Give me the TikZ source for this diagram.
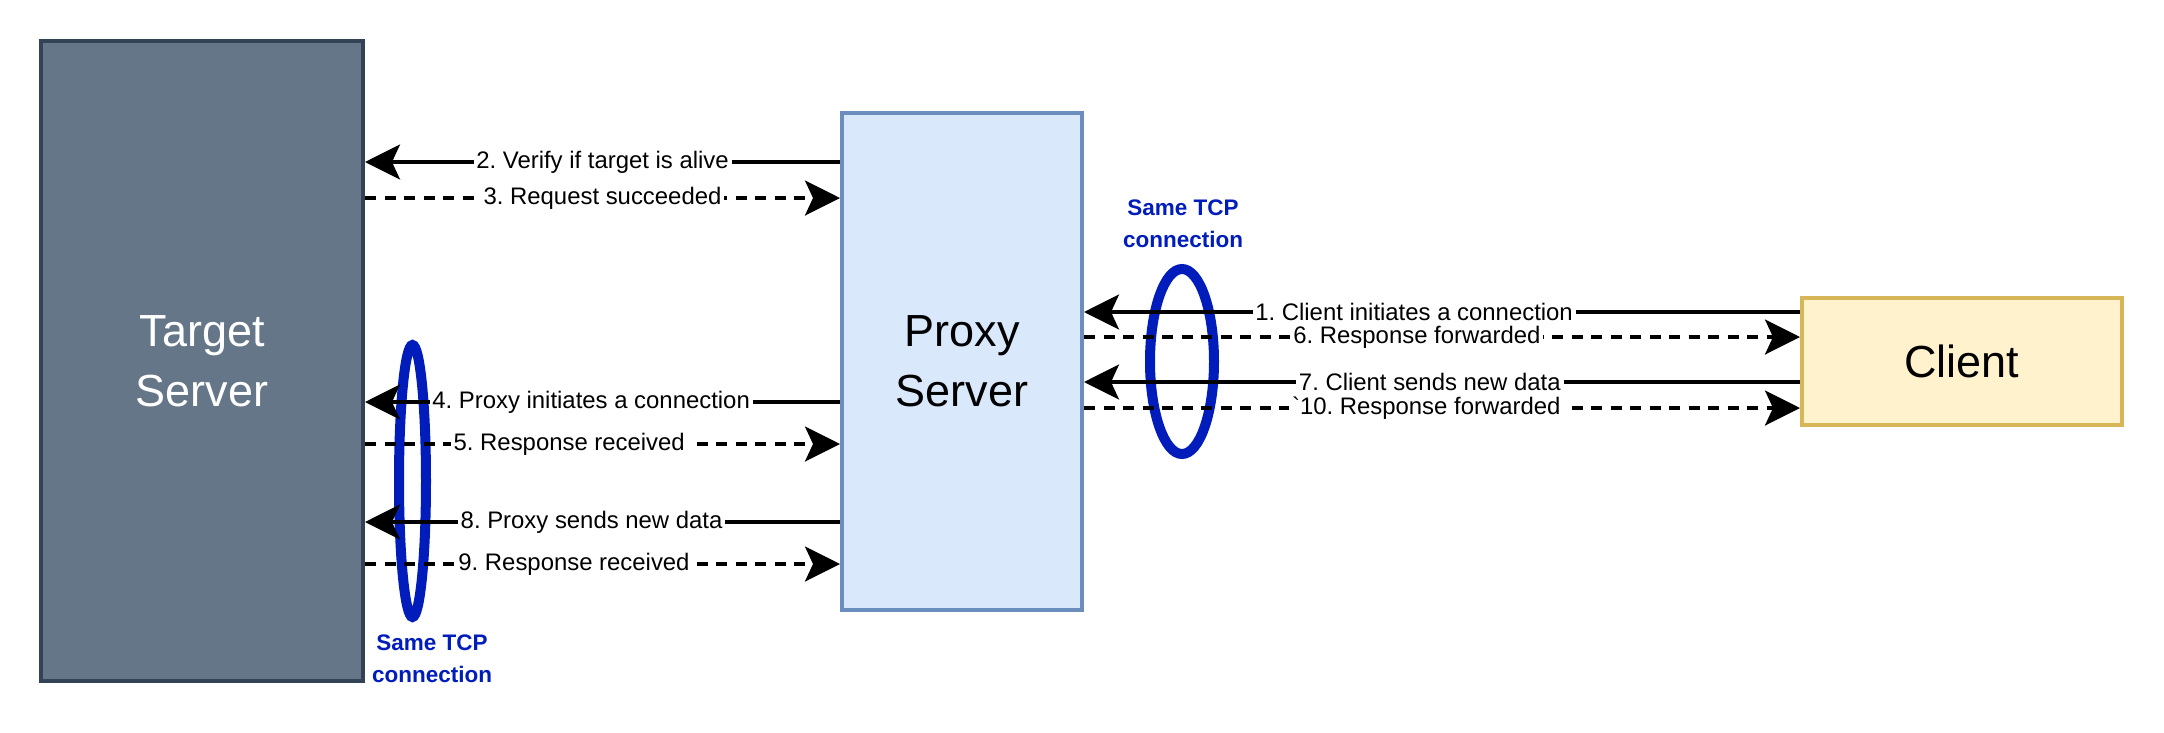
\documentclass[tikz,border=0pt]{standalone}
\usepackage{fontspec}
\setmainfont{Liberation Sans}
\usetikzlibrary{positioning}
\usetikzlibrary{backgrounds}
\usetikzlibrary{arrows.meta}

\definecolor{targetfill}{HTML}{647687}
\definecolor{targetline}{HTML}{314354}
\definecolor{proxyfill}{HTML}{DAE8FC}
\definecolor{proxyline}{HTML}{6C8EBF}
\definecolor{clientfill}{HTML}{FFF2CC}
\definecolor{clientline}{HTML}{D6B656}
\definecolor{tcpblue}{HTML}{001DBC}

\frenchspacing

\begin{document}
\begin{tikzpicture}[
		box/.style = {draw, rectangle, line width=0.04cm, align=center, font=\fontsize{12.8}{17}\selectfont},
		req/.style = {line width=0.033cm, -{Stealth[length=0.35cm, width=0.35cm, inset=0.08cm]}},
		resp/.style = {req, dash pattern=on 0.11cm off 0.085cm},
		msg/.style = {fill=white, inner sep=0.8pt, font=\fontsize{6.8}{8}\selectfont},
		tcp/.style = {draw=tcpblue, line width=0.1cm},
		tcplabel/.style = {align=center, text=tcpblue, font=\fontsize{6.4}{9.1}\selectfont\bfseries}
	]
		\useasboundingbox (0,0) rectangle (21.64,7.32);

		\node[box, fill=targetfill, draw=targetline, text=white, minimum width=3.22cm, minimum height=6.40cm] at (2.02,3.71) (target) {Target\\Server};
		\node[box, right = 4.75cm of target, fill=proxyfill, draw=proxyline, minimum width=2.40cm, minimum height=4.97cm] (proxy) {Proxy\\Server};
		\node[box, right = 7.16cm of proxy, fill=clientfill, draw=clientline, minimum width=3.20cm, minimum height=1.27cm] (client) {Client};

		\node[tcplabel] at (4.32,0.73) (tcpleft) {Same TCP\\connection};
		\node[tcplabel] at (11.83,5.08) (tcpright) {Same TCP\\connection};

		\begin{scope}[on background layer]
			\draw[tcp] (4.125,2.51) ellipse [x radius=0.135cm, y radius=1.36cm];
			\draw[tcp] (11.82,3.705) ellipse [x radius=0.32cm, y radius=0.925cm];
		\end{scope}

		% proxy <-> target
		\draw[req] (proxy.west |- 0,5.70) -- node[msg, pos=0.50] (m2) {2. Verify if target is alive} (target.east |- 0,5.70);
		\draw[resp] (target.east |- 0,5.34) -- node[msg, pos=0.50] (m3) {3. Request succeeded} (proxy.west |- 0,5.34);
		\draw[req] (proxy.west |- 0,3.30) -- node[msg, pos=0.524] (m4) {4. Proxy initiates a connection} (target.east |- 0,3.30);
		\draw[resp] (target.east |- 0,2.88) -- node[msg, pos=0.43] (m5) {5. Response received} (proxy.west |- 0,2.88);
		\draw[req] (proxy.west |- 0,2.10) -- node[msg, pos=0.523] (m8) {8. Proxy sends new data} (target.east |- 0,2.10);
		\draw[resp] (target.east |- 0,1.68) -- node[msg, pos=0.44] (m9) {9. Response received} (proxy.west |- 0,1.68);

		% client <-> proxy
		\draw[req] (client.west |- 0,4.20) -- node[msg, pos=0.539] (m1) {1. Client initiates a connection} (proxy.east |- 0,4.20);
		\draw[resp] (proxy.east |- 0,3.95) -- node[msg, pos=0.465] (m6) {6. Response forwarded} (client.west |- 0,3.95);
		\draw[req] (client.west |- 0,3.50) -- node[msg, pos=0.517] (m7) {7. Client sends new data} (proxy.east |- 0,3.50);
		\draw[resp] (proxy.east |- 0,3.24) -- node[msg, pos=0.478] (m10) {\textasciigrave10. Response forwarded} (client.west |- 0,3.24);
	\end{tikzpicture}
\end{document}
